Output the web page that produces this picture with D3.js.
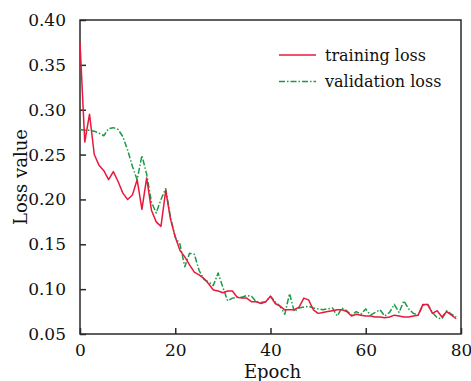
<!DOCTYPE html>
<html>
<head>
<meta charset="utf-8">
<script src="https://cdn.jsdelivr.net/npm/d3@7/dist/d3.min.js"></script>
<style>
  html, body { margin: 0; padding: 0; background: #fff; }
  svg { display: block; }
  text { font-family: "DejaVu Serif", "Liberation Serif", serif; fill: #111; }
</style>
</head>
<body>
<script>
// ---- data ----
const epochs = d3.range(0, 80);
const trainingLoss = [
  0.375, 0.264, 0.295, 0.250, 0.238, 0.232, 0.222, 0.231, 0.220, 0.207,
  0.200, 0.205, 0.222, 0.189, 0.224, 0.188, 0.175, 0.170, 0.210, 0.178,
  0.158, 0.143, 0.136, 0.127, 0.119, 0.116, 0.112, 0.106, 0.099, 0.098,
  0.096, 0.098, 0.098, 0.091, 0.090, 0.090, 0.086, 0.086, 0.084, 0.086,
  0.092, 0.084, 0.081, 0.077, 0.077, 0.077, 0.080, 0.090, 0.088, 0.077,
  0.073, 0.074, 0.075, 0.076, 0.077, 0.077, 0.075, 0.070, 0.072, 0.071,
  0.070, 0.070, 0.069, 0.069, 0.068, 0.069, 0.071, 0.070, 0.069, 0.069,
  0.070, 0.071, 0.083, 0.083, 0.073, 0.076, 0.069, 0.075, 0.071, 0.067
];
const validationLoss = [
  0.278, 0.277, 0.277, 0.276, 0.274, 0.271, 0.279, 0.280, 0.278, 0.270,
  0.255, 0.237, 0.222, 0.249, 0.228, 0.197, 0.185, 0.200, 0.212, 0.180,
  0.158, 0.150, 0.125, 0.140, 0.139, 0.121, 0.111, 0.108, 0.104, 0.118,
  0.102, 0.087, 0.090, 0.091, 0.091, 0.093, 0.092, 0.086, 0.085, 0.086,
  0.092, 0.086, 0.081, 0.072, 0.095, 0.075, 0.079, 0.080, 0.081, 0.079,
  0.078, 0.077, 0.078, 0.079, 0.070, 0.079, 0.076, 0.071, 0.075, 0.072,
  0.078, 0.071, 0.074, 0.077, 0.070, 0.074, 0.083, 0.074, 0.087, 0.078,
  0.073, 0.071, 0.082, 0.083, 0.074, 0.068, 0.067, 0.076, 0.072, 0.069
];
const xTicks = [0, 20, 40, 60, 80];
const yTicks = [0.05, 0.10, 0.15, 0.20, 0.25, 0.30, 0.35, 0.40];
const seriesNames = ["training loss", "validation loss"];
const xLabel = "Epoch";
const yLabel = "Loss value";

// ---- layout ----
const W = 471, H = 381;
const L = 80, T = 20, R = 461, B = 334;

const svg = d3.select("body").append("svg").attr("width", W).attr("height", H);

const x = d3.scaleLinear().domain([0, 80]).range([L, R]);
const y = d3.scaleLinear().domain([0.05, 0.40]).range([B, T]);

const axisColor = "#2a2a2a";

// frame
svg.append("rect")
  .attr("x", L).attr("y", T).attr("width", R - L).attr("height", B - T)
  .attr("fill", "none").attr("stroke", axisColor).attr("stroke-width", 1.5);

// y axis (ticks inward)
const yAxis = svg.append("g").attr("transform", `translate(${L},0)`)
  .call(d3.axisLeft(y).tickValues(yTicks).tickSizeInner(-6).tickSizeOuter(0)
        .tickPadding(14).tickFormat(d3.format(".2f")));
yAxis.select(".domain").remove();
yAxis.selectAll("line").attr("stroke", axisColor).attr("stroke-width", 1.5);
yAxis.selectAll("text").attr("font-size", 17).attr("fill", "#111")
  .style("font-family", '"DejaVu Serif", serif');

// x axis (ticks inward)
const xAxis = svg.append("g").attr("transform", `translate(0,${B})`)
  .call(d3.axisBottom(x).tickValues(xTicks).tickSizeInner(-6).tickSizeOuter(0)
        .tickPadding(10).tickFormat(d3.format("d")));
xAxis.select(".domain").remove();
xAxis.selectAll("line").attr("stroke", axisColor).attr("stroke-width", 1.5);
xAxis.selectAll("text").attr("font-size", 17).attr("fill", "#111")
  .style("font-family", '"DejaVu Serif", serif');

// axis labels
svg.append("text").attr("x", (L + R) / 2 + 2).attr("y", 378)
  .attr("text-anchor", "middle").attr("font-size", 18).text(xLabel);
svg.append("text")
  .attr("transform", `translate(27,${(T + B) / 2}) rotate(-90)`)
  .attr("text-anchor", "middle").attr("font-size", 18).text(yLabel);

// lines
const line = d3.line().x((d, i) => x(epochs[i])).y(d => y(d));
svg.append("clipPath").attr("id", "clip")
  .append("rect").attr("x", L).attr("y", T).attr("width", R - L).attr("height", B - T);

const colors = ["#e8193c", "#1b9a45"];
const dashes = [null, "6,2,1.5,2"];

svg.append("path").datum(validationLoss)
  .attr("clip-path", "url(#clip)")
  .attr("fill", "none").attr("stroke", colors[1]).attr("stroke-width", 1.5)
  .attr("stroke-dasharray", dashes[1]).attr("stroke-linejoin", "round")
  .attr("d", line);

svg.append("path").datum(trainingLoss)
  .attr("clip-path", "url(#clip)")
  .attr("fill", "none").attr("stroke", colors[0]).attr("stroke-width", 1.5)
  .attr("stroke-linejoin", "round")
  .attr("d", line);

// legend
const legend = svg.append("g");
seriesNames.forEach((name, i) => {
  const ly = 55 + i * 26.5;
  legend.append("line").attr("x1", 279).attr("x2", 316).attr("y1", ly).attr("y2", ly)
    .attr("stroke", colors[i]).attr("stroke-width", 1.5)
    .attr("stroke-dasharray", dashes[i]);
  legend.append("text").attr("x", 325).attr("y", ly + 5.5)
    .attr("font-size", 16).text(name);
});
</script>
</body>
</html>
